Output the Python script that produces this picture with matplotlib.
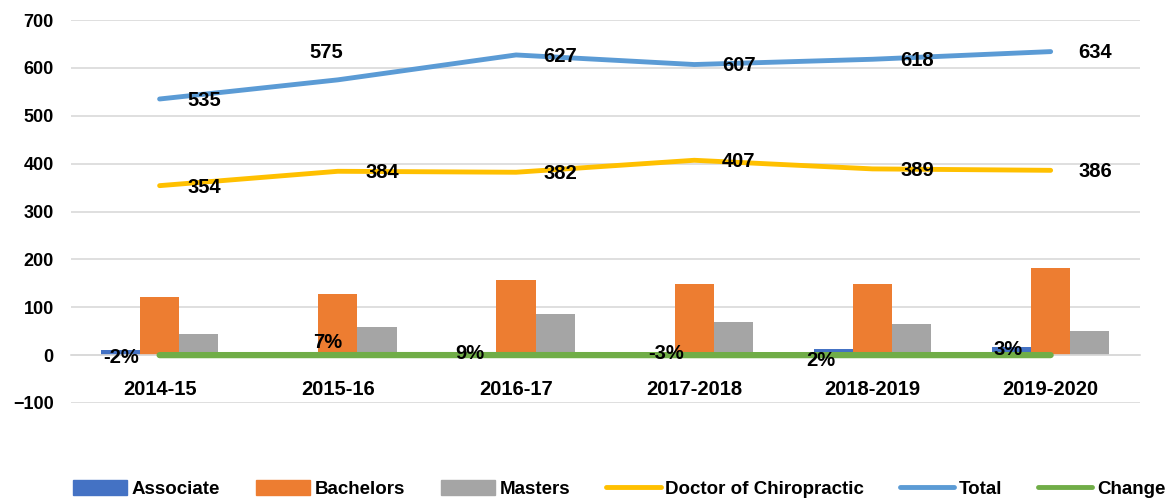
import matplotlib
matplotlib.use("Agg")
import matplotlib.pyplot as plt
import numpy as np
from matplotlib.patches import Patch
from matplotlib.lines import Line2D

categories = ["2014-15", "2015-16", "2016-17", "2017-2018", "2018-2019", "2019-2020"]
associate = [10, 0, 0, 0, 12, 16]
bachelors = [121, 127, 157, 148, 148, 182]
masters = [44, 58, 85, 70, 66, 50]
doctor = [354, 384, 382, 407, 389, 386]
total = [535, 575, 627, 607, 618, 634]
change = [-0.02, 0.07, 0.09, -0.03, 0.02, 0.03]

c_assoc = "#4472C4"
c_bach = "#ED7D31"
c_mast = "#A5A5A5"
c_doc = "#FFC000"
c_tot = "#5B9BD5"
c_chg = "#70AD47"

plt.rcParams['font.family'] = ['Liberation Sans', 'DejaVu Sans']

fig = plt.figure(figsize=(11.75, 5.04), dpi=100)
ax = fig.add_axes([0.06, 0.2004, 0.91, 0.7599])

x = np.arange(len(categories))
w = 0.22
ax.bar(x - w, associate, w, color=c_assoc, zorder=2)
ax.bar(x, bachelors, w, color=c_bach, zorder=2)
ax.bar(x + w, masters, w, color=c_mast, zorder=2)

ax.plot(x, doctor, color=c_doc, lw=3.5, zorder=3, solid_capstyle='round')
ax.plot(x, total, color=c_tot, lw=3.5, zorder=3, solid_capstyle='round')
ax.plot(x, change, color=c_chg, lw=4.5, zorder=3, solid_capstyle='round')

lab = dict(fontsize=14.5, fontweight='bold', color='black', zorder=5)
for i, v in enumerate(total):
    if i == 1:
        ax.annotate(str(v), (x[i], v), xytext=(-8, 20), textcoords='offset points', ha='center', va='center', **lab)
    else:
        ax.annotate(str(v), (x[i], v), xytext=(32, -1), textcoords='offset points', ha='center', va='center', **lab)
for i, v in enumerate(doctor):
    ax.annotate(str(v), (x[i], v), xytext=(32, -1), textcoords='offset points', ha='center', va='center', **lab)
chg_off = [(-28, -2), (-7, 9), (-33, 1), (-20, 1), (-37, -4), (-31, 4)]
for i, v in enumerate(change):
    ax.annotate(f"{round(v*100):d}%", (x[i], v), xytext=chg_off[i], textcoords='offset points', ha='center', va='center', **lab)

ax.set_xlim(-0.5, 5.5)
ax.set_ylim(-100, 700)
ax.set_yticks(range(-100, 701, 100))
ax.yaxis.grid(True, color="#D9D9D9", lw=1.2, zorder=0)
ax.set_axisbelow(True)
for s in ['top', 'right', 'left']:
    ax.spines[s].set_visible(False)
ax.spines['bottom'].set_position(('data', 0))
ax.spines['bottom'].set_color("#D9D9D9")
ax.spines['bottom'].set_linewidth(1.2)
ax.set_xticks(x)
ax.set_xticklabels(categories)
ax.tick_params(axis='x', length=0, pad=18)
ax.tick_params(axis='y', length=0, pad=12)
for t in ax.get_xticklabels():
    t.set_fontsize(14.5)
    t.set_fontweight('bold')
for t in ax.get_yticklabels():
    t.set_fontsize(13)
    t.set_fontweight('bold')

handles = [
    Patch(color=c_assoc, label="Associate"),
    Patch(color=c_bach, label="Bachelors"),
    Patch(color=c_mast, label="Masters"),
    Line2D([], [], color=c_doc, lw=3.5, label="Doctor of Chiropractic", solid_capstyle='round'),
    Line2D([], [], color=c_tot, lw=3.5, label="Total", solid_capstyle='round'),
    Line2D([], [], color=c_chg, lw=3.5, label="Change", solid_capstyle='round'),
]
fig.legend(handles=handles, loc='center', bbox_to_anchor=(0.527, 0.03), ncol=6, frameon=False,
           prop={'size': 13.5, 'weight': 'bold'}, handlelength=2.9, handleheight=0.9,
           handletextpad=0.25, columnspacing=1.9)

fig.savefig("out.png", dpi=100)
